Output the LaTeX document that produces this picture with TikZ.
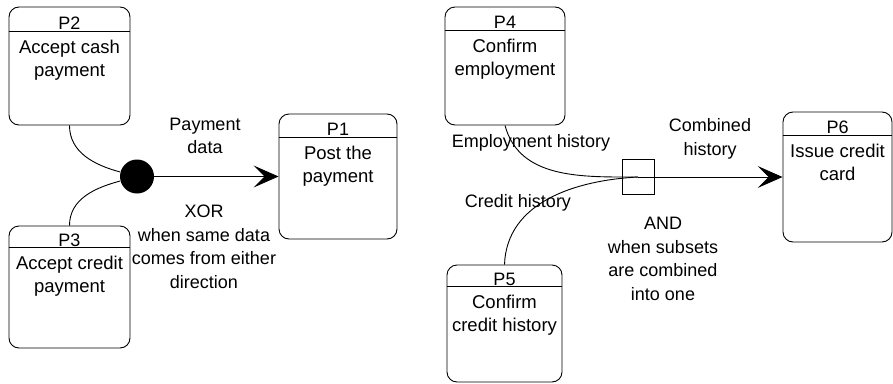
\documentclass[tikz,border=0pt]{standalone}
\usepackage{fontspec}
\setmainfont{Liberation Sans}
\usetikzlibrary{arrows.meta}
\tikzset{
  proc/.style={draw, rounded corners=10pt, inner sep=0pt},
  ptitle/.style={inner sep=0pt, font=\fontsize{18}{23.5}\selectfont},
  ptext/.style={inner sep=0pt, align=center, anchor=north, font=\fontsize{18.5}{23.5}\selectfont},
  flowtext/.style={inner sep=0pt, align=center, font=\fontsize{18}{23.5}\selectfont},
  flow/.style={-{Stealth[length=25pt,width=22pt,inset=11pt]}}
}
\begin{document}
\begin{tikzpicture}[x=1pt,y=-1pt,line width=0.9pt]
            \useasboundingbox (0,0) rectangle (893,383);

            % processes
            \node[proc, minimum width=121pt, minimum height=118pt] (P2) at (69.5,66) {};
            \node[proc, minimum width=121pt, minimum height=122pt] (P3) at (69.5,287) {};
            \node[proc, minimum width=118pt, minimum height=125pt] (P1) at (338,176.5) {};
            \node[proc, minimum width=120pt, minimum height=118pt] (P4) at (505,66) {};
            \node[proc, minimum width=115pt, minimum height=117pt] (P5) at (504.5,323.5) {};
            \node[proc, minimum width=109pt, minimum height=130pt] (P6) at (837.5,177) {};

            % header lines
            \draw ([yshift=-25pt]P2.north west) -- ([yshift=-25pt]P2.north east);
            \draw ([yshift=-22pt]P3.north west) -- ([yshift=-22pt]P3.north east);
            \draw ([yshift=-24pt]P1.north west) -- ([yshift=-24pt]P1.north east);
            \draw ([yshift=-24pt]P4.north west) -- ([yshift=-24pt]P4.north east);
            \draw ([yshift=-22pt]P5.north west) -- ([yshift=-22pt]P5.north east);
            \draw ([yshift=-24pt]P6.north west) -- ([yshift=-24pt]P6.north east);

            % titles
            \node[ptitle] (P2t) at ([yshift=-17pt]P2.north) {P2};
            \node[ptitle] (P3t) at ([yshift=-15pt]P3.north) {P3};
            \node[ptitle] (P1t) at ([yshift=-16pt]P1.north) {P1};
            \node[ptitle] (P4t) at ([yshift=-16pt]P4.north) {P4};
            \node[ptitle] (P5t) at ([yshift=-15pt]P5.north) {P5};
            \node[ptitle] (P6t) at ([yshift=-16pt]P6.north) {P6};

            % process texts
            \node[ptext] (P2b) at ([yshift=-33pt]P2.north) {Accept cash\\payment};
            \node[ptext] (P3b) at ([yshift=-30pt]P3.north) {Accept credit\\payment};
            \node[ptext] (P1b) at ([yshift=-32pt]P1.north) {Post the\\payment};
            \node[ptext] (P4b) at ([yshift=-32pt]P4.north) {Confirm\\employment};
            \node[ptext] (P5b) at ([yshift=-30pt]P5.north) {Confirm\\credit history};
            \node[ptext] (P6b) at ([yshift=-32pt]P6.north) {Issue credit\\card};

            % XOR junction
            \node[circle, fill, minimum size=34pt, inner sep=0pt] (xor) at (137,176.5) {};

            \draw (P2.south) to[out=-90,in=165] (xor.165);

            \draw (P3.north) to[out=90,in=195] (xor.195);

            \draw[flow] (xor.east) -- (P1.west);

            \node[flowtext] (pdata) at (205,136) {Payment\\data};

            \node[flowtext] (xorlbl) at (204,247) {XOR\\when same data\\comes from either\\direction};

            % AND junction
            \node[draw, minimum width=32pt, minimum height=35pt, inner sep=0pt] (and) at (638,177) {};

            \draw (P4.south) to[out=-75,in=180] (and.center);

            \draw (P5.north) to[out=88,in=183] (and.center);

            \draw[flow] (and.center) -- (P6.west);

            \node[flowtext] (emphist) at (531,143) {Employment history};

            \node[flowtext] (credhist) at (518,203) {Credit history};

            \node[flowtext] (combhist) at (710,139) {Combined\\history};

            \node[flowtext] (andlbl) at (663,259) {AND\\when subsets\\are combined\\into one};
\end{tikzpicture}
\end{document}
